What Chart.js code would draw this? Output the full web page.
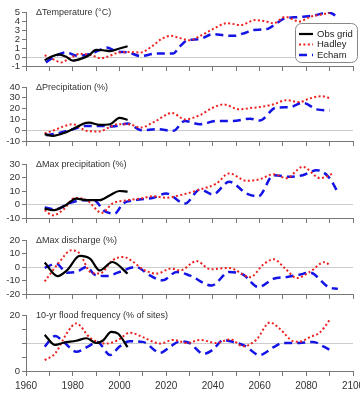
<!DOCTYPE html>
<html>
<head>
<meta charset="utf-8">
<title>Observed and projected changes</title>
<script src="https://cdn.jsdelivr.net/npm/chart.js"></script>
<style>
  html, body { margin: 0; padding: 0; background: #fff; }
  #wrap { position: relative; width: 360px; height: 397px; overflow: hidden; }
  #wrap canvas { position: absolute; left: 0; }
</style>
</head>
<body>
<div id="wrap"></div>
<script>
// ---- data (years / values per series) ----
const seriesNames = ['Obs grid', 'Hadley', 'Echam'];
const xTickYears = [1960, 1980, 2000, 2020, 2040, 2060, 2080, 2100];

// Delta temperature (deg C)
const tempObsX = [1968, 1971, 1974, 1977, 1980, 1984, 1987, 1990, 1993, 1996, 2000, 2003.5];
const tempObsY = [-0.35, 0.05, 0.3, 0.05, -0.4, -0.15, 0.2, 0.8, 0.75, 0.65, 0.95, 1.2];
const tempHadX = [1968, 1972, 1975, 1979, 1983, 1988, 1992, 1996, 1999, 2004, 2009, 2014, 2018, 2022, 2026, 2030, 2035, 2040, 2046, 2052, 2058, 2062, 2066, 2071, 2077, 2082, 2086, 2090];
const tempHadY = [0.2, -0.3, -0.6, -0.1, 0.35, 0.2, -0.15, 0.15, 0.45, 0.55, 0.5, 1.2, 2.0, 2.35, 2.1, 1.85, 2.4, 3.1, 3.75, 3.55, 4.1, 4.0, 3.75, 4.45, 3.95, 4.5, 4.7, 4.9];
const tempEchX = [1968.5, 1972, 1977, 1982, 1987, 1991, 1994.5, 1999, 2004, 2009, 2016, 2023, 2026, 2029, 2034.5, 2040, 2045, 2049, 2054, 2057, 2063, 2067, 2070, 2077, 2083, 2089.5, 2093.5];
const tempEchY = [-0.6, 0.0, 0.5, 0.15, 0.3, 0.7, 1.05, 0.6, 0.5, 0.1, 0.4, 0.4, 1.2, 1.85, 2.0, 2.55, 2.4, 2.35, 2.7, 3.0, 3.1, 3.7, 4.2, 4.45, 4.6, 4.95, 4.45];

// Delta precipitation (%)
const precObsX = [1968, 1971.5, 1977, 1981, 1984.5, 1987, 1991.5, 1996, 2000, 2003.5];
const precObsY = [-3.7, -5.2, -2, 2, 6, 7, 5, 5.5, 11.5, 9.5];
const precHadX = [1968, 1972, 1976, 1980, 1986, 1991.5, 1995, 1999, 2004, 2009, 2015.5, 2022.5, 2028, 2034.5, 2040, 2044.5, 2051.5, 2056, 2060, 2066, 2071.5, 2077, 2081.5, 2086.5, 2090.5];
const precHadY = [-3, 0, 3.4, 5.5, -0.6, -1.2, 2, 5.5, 5.5, 2.4, 8.5, 16, 10, 14, 20.8, 23.8, 19.3, 20.5, 21.4, 24, 27.8, 26, 29.4, 31.5, 29.4];
const precEchX = [1968.5, 1973.5, 1980, 1986, 1991.5, 1997, 2003.5, 2009.5, 2016, 2023, 2028, 2034.5, 2041.5, 2048.5, 2056, 2060, 2067, 2073, 2078.5, 2084.5, 2090];
const precEchY = [-4.6, -3, 0.9, 4, 4, 3.4, 6.1, 0, 1, -0.6, 8.6, 5.5, 8.5, 8.5, 10.7, 9, 20.8, 21.4, 25.4, 19.3, 18.3];

// Delta max precipitation (%)
const maxpObsX = [1968, 1971.5, 1977, 1981.5, 1986, 1991.5, 1996, 2000, 2003.5];
const maxpObsY = [-3, -4.2, -0.5, 4.4, 3.2, 3.2, 6.9, 10, 9.5];
const maxpHadX = [1968, 1971.5, 1976, 1981, 1986, 1992.5, 1997, 2003.5, 2009, 2014.5, 2020, 2026, 2034.5, 2041.5, 2047, 2054.5, 2060, 2066, 2071.5, 2078.5, 2086, 2091.5];
const maxpHadY = [-4.2, -8, -3.7, 4.9, 3.2, -6.2, 0.7, 3.2, 4.4, 6.1, 5, 6.9, 11.1, 15.5, 23, 17.5, 18.7, 22.4, 19.5, 27.9, 19.5, 23];
const maxpEchX = [1968, 1972.5, 1979, 1984.5, 1989, 1993.5, 1998, 2001.5, 2007, 2014.5, 2020, 2028, 2034.5, 2040, 2047, 2054.5, 2059.5, 2066, 2073, 2078.5, 2084.5, 2089.5, 2093.5];
const maxpEchY = [-2.2, -3.7, 1.2, 3.2, 3.2, -4.7, -6.7, 0.7, 3.2, 5, 8.1, 0.7, 11.1, 7.5, 16.8, 8.1, 6.1, 21.7, 20.5, 21.7, 25.4, 20.5, 9.3];

// Delta max discharge (%)
const discObsX = [1968, 1973.5, 1977.5, 1983, 1987.5, 1991.5, 1997, 2003.5];
const discObsY = [3.3, -6.7, -2.5, 8.2, 6, -2.5, 3.7, -4.9];
const discHadX = [1968, 1974, 1979.5, 1983, 1987.5, 1991.5, 1997, 2001.5, 2006, 2010, 2016, 2022, 2026, 2033, 2039, 2047, 2056, 2061.5, 2066, 2071, 2076, 2081.5, 2088, 2090];
const discHadY = [-10.7, 3, 12.4, 10, -3.7, -4.9, 4.9, 7.5, 3.7, -1.7, -4.9, -1.2, -2.5, 4.4, -1.7, -0.7, -7.5, 1.7, 5.7, -1.2, -8.2, -3.7, 3.7, 1.2];
const discEchX = [1968, 1973, 1977.5, 1981.5, 1986, 1989.5, 1994.5, 2000, 2007, 2013, 2018.5, 2024.5, 2030, 2039.5, 2047, 2053, 2059.5, 2066, 2071.5, 2077, 2081.5, 2089.5, 2093.5];
const discEchY = [-0.7, 2.5, -4.2, -3.7, 0, -5.7, -6.7, -3.7, 0, -6.2, -9.9, -3.7, -6.2, -13.7, -3.7, -5.7, -14.9, -8.7, -7.5, -5.7, -4.2, -14.9, -16.2];

// 10-yr flood frequency (% of sites)
const floodObsX = [1968, 1972.5, 1976, 1981.5, 1986, 1990, 1993, 1996.5, 1999.5, 2003.5];
const floodObsY = [12.9, 9.3, 10.1, 10.8, 11.7, 10, 10.9, 14, 13.3, 8.5];
const floodHadX = [1968, 1972.5, 1977.5, 1981.5, 1987.5, 1994.5, 1999.5, 2004.5, 2010, 2017.5, 2023, 2029, 2034.5, 2041.5, 2047.5, 2053, 2058.5, 2064.5, 2068.5, 2074.5, 2077, 2081.5, 2086, 2090];
const floodHadY = [3.9, 6.3, 13.5, 17, 11.8, 9.8, 11.1, 13.7, 12.1, 9.8, 11.1, 10, 11.1, 10, 11.3, 8.8, 11.1, 17.3, 15.2, 10.6, 10.4, 12.1, 13.9, 18.2];
const floodEchX = [1968, 1972.5, 1976, 1981.5, 1986.5, 1990.5, 1996, 2000, 2004.5, 2010, 2017.5, 2021.5, 2026, 2030, 2036, 2040, 2044.5, 2048.5, 2053.5, 2060, 2066, 2070, 2077, 2083, 2087.5, 2091.5];
const floodEchY = [8.7, 12.5, 10.5, 6.9, 8.7, 10.4, 5.7, 8.7, 10.6, 10.4, 6.5, 8.5, 10.6, 10, 6.1, 7.6, 11.1, 10.4, 9.1, 5.7, 8.5, 10, 10, 10.4, 8.7, 6.9];

// ---- layout / styling ----
const FONT = "'Liberation Sans', Arial, sans-serif";
const AXIS_COLOR = '#777';
const CANVAS_W = 380;           // wider than the page so the last year label gets cut off like the original
const PLOT_LEFT = 26, PLOT_RIGHT = 353;
const PAD_TOP = 12;

const styles = [
  { borderColor: '#000000', borderWidth: 2.2, borderDash: [] },
  { borderColor: '#ee2020', borderWidth: 2, borderDash: [2, 2.4] },
  { borderColor: '#1414e6', borderWidth: 2.5, borderDash: [8, 5] }
];

const panels = [
  { title: '\u0394Temperature (\u00B0C)', top: 12, bottom: 66, min: -1, max: 5, step: 1, ref: 0, legend: true,
    xs: [tempObsX, tempHadX, tempEchX], ys: [tempObsY, tempHadY, tempEchY] },
  { title: '\u0394Precipitation (%)', top: 87, bottom: 141.5, min: -10, max: 40, step: 10, ref: 0,
    xs: [precObsX, precHadX, precEchX], ys: [precObsY, precHadY, precEchY] },
  { title: '\u0394Max precipitation (%)', top: 164, bottom: 218, min: -10, max: 30, step: 10, ref: 0,
    xs: [maxpObsX, maxpHadX, maxpEchX], ys: [maxpObsY, maxpHadY, maxpEchY] },
  { title: '\u0394Max discharge (%)', top: 240, bottom: 294, min: -20, max: 20, step: 10, ref: 0,
    xs: [discObsX, discHadX, discEchX], ys: [discObsY, discHadY, discEchY] },
  { title: '10-yr flood frequency (% of sites)', top: 315, bottom: 371, min: 0, max: 20, step: 5, ref: 10,
    yLabels: [0, 20], xLabels: true,
    xs: [floodObsX, floodHadX, floodEchX], ys: [floodObsY, floodHadY, floodEchY] }
];

// panel caption + legend box, drawn on the canvas
const panelText = {
  id: 'panelText',
  afterDraw(chart, args, opts) {
    const ctx = chart.ctx, a = chart.chartArea;
    ctx.save();
    ctx.font = '9px ' + FONT;
    ctx.fillStyle = '#333';
    ctx.textBaseline = 'middle';
    ctx.fillText(opts.title, a.left + 10, a.top + 1);
    if (opts.legend) {
      const bx = a.right - 58, by = a.top + 11;
      ctx.strokeStyle = '#888';
      ctx.lineWidth = 1;
      ctx.beginPath();
      ctx.roundRect(bx + 0.5, by + 0.5, 62, 39, 6);
      ctx.fillStyle = '#fff';
      ctx.fill();
      ctx.stroke();
      ctx.font = '9.5px ' + FONT;
      chart.data.datasets.forEach((ds, i) => {
        const y = by + 11 + i * 10.5;
        ctx.strokeStyle = ds.borderColor;
        ctx.lineWidth = ds.borderWidth;
        ctx.setLineDash(ds.borderDash);
        ctx.beginPath();
        ctx.moveTo(bx + 4, y);
        ctx.lineTo(bx + 18, y);
        ctx.stroke();
        ctx.setLineDash([]);
        ctx.fillStyle = '#222';
        ctx.fillText(ds.label, bx + 22, y);
      });
    }
    ctx.restore();
  }
};

const wrap = document.getElementById('wrap');

panels.forEach(p => {
  const last = !!p.xLabels;
  const xHeight = last ? 397 - p.bottom : 6;
  const padBottom = last ? 0 : 8;
  const canvasTop = p.top - PAD_TOP;
  const canvasH = last ? 397 - canvasTop : PAD_TOP + (p.bottom - p.top) + xHeight + padBottom;

  const canvas = document.createElement('canvas');
  canvas.width = CANVAS_W;
  canvas.height = canvasH;
  canvas.style.top = canvasTop + 'px';
  wrap.appendChild(canvas);

  const datasets = seriesNames.map((name, i) => ({
    label: name,
    data: p.xs[i].map((x, k) => ({ x: x, y: p.ys[i][k] })),
    borderColor: styles[i].borderColor,
    borderWidth: styles[i].borderWidth,
    borderDash: styles[i].borderDash,
    pointRadius: 0,
    fill: false,
    cubicInterpolationMode: 'monotone'
  }));

  new Chart(canvas.getContext('2d'), {
    type: 'line',
    data: { datasets: datasets },
    options: {
      responsive: false,
      animation: false,
      layout: { padding: { top: PAD_TOP, right: CANVAS_W - PLOT_RIGHT, bottom: padBottom, left: 0 } },
      plugins: {
        legend: { display: false },
        tooltip: { enabled: false },
        panelText: { title: p.title, legend: !!p.legend }
      },
      scales: {
        x: {
          type: 'linear',
          min: 1960,
          max: 2100,
          afterFit: s => { s.height = xHeight; },
          border: { display: true, color: AXIS_COLOR, width: 1 },
          grid: { drawOnChartArea: false, drawTicks: true, tickLength: 5, color: AXIS_COLOR },
          ticks: {
            display: last,
            stepSize: 10,
            autoSkip: false,
            maxRotation: 0,
            padding: 4,
            color: '#333',
            font: { family: FONT, size: 10 },
            callback: v => xTickYears.includes(v) ? String(v) : ''
          }
        },
        y: {
          min: p.min,
          max: p.max,
          afterFit: s => { s.width = PLOT_LEFT; },
          border: { display: true, color: AXIS_COLOR, width: 1 },
          grid: {
            drawOnChartArea: true,
            tickLength: 4,
            tickColor: AXIS_COLOR,
            color: c => (c.tick && c.tick.value === p.ref) ? '#cdcdcd' : 'rgba(0,0,0,0)'
          },
          ticks: {
            stepSize: p.step,
            autoSkip: false,
            padding: 2,
            color: '#333',
            font: { family: FONT, size: 9.5 },
            callback: v => (!p.yLabels || p.yLabels.includes(v)) ? String(v) : ''
          }
        }
      }
    },
    plugins: [panelText]
  });
});
</script>
</body>
</html>
